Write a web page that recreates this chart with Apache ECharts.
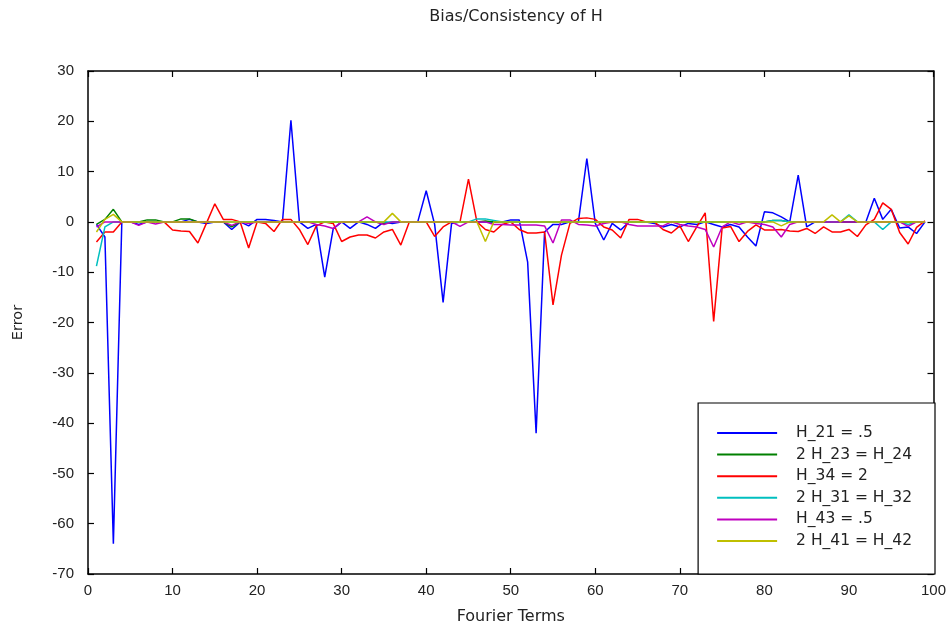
<!DOCTYPE html>
<html>
<head>
<meta charset="utf-8">
<script src="https://cdn.jsdelivr.net/npm/echarts@6/dist/echarts.min.js"></script>
<style>
html,body{margin:0;padding:0;background:#fff;}
#chart{width:949px;height:631px;}
</style>
</head>
<body>
<div id="chart"></div>
<script>
// Fourier term index (x values)
var terms = Array.from({length: 99}, function (_, i) { return i + 1; });

var seriesNames = ['H_21 = .5', '2 H_23 = H_24', 'H_34 = 2', '2 H_31 = H_32', 'H_43 = .5', '2 H_41 = H_42'];
var seriesColors = ['#0000ff', '#008000', '#ff0000', '#00bfbf', '#bf00bf', '#bfbf00'];

var xTicks = [0, 10, 20, 30, 40, 50, 60, 70, 80, 90, 100];
var yTicks = [-70, -60, -50, -40, -30, -20, -10, 0, 10, 20, 30];

var h21 = [
  -0.5, -3, -64, 0, 0, -0.5, 0, 0, 0, 0,
  0, 0.5, 0, -0.3, 0, 0, -1.5, 0, -0.8, 0.5,
  0.5, 0.3, 0, 20.2, 0, -1.3, -0.5, -11, -1.4, 0,
  -1.3, 0, -0.5, -1.3, 0, -0.3, 0, 0, 0, 6.2,
  -0.5, -16, -0.3, 0, 0, 0, 0, 0, 0, 0.4,
  0.4, -8, -42, -2, -0.5, -0.5, 0, 0, 12.6, -0.3,
  -3.6, -0.3, -1.6, 0, 0, 0, -0.3, -1, -0.5, -1,
  -0.3, -0.5, 0, -0.5, -1, -0.5, -1, -3, -4.8, 2,
  1.8, 1, 0, 9.3, -1, 0, 0, 0, 0, 0,
  0, 0, 4.7, 0.5, 2.5, -1.2, -1, -2.3, 0
];

var h23 = [
  -0.5, 0.5, 2.5, 0, 0, 0, 0.4, 0.4, 0, 0,
  0.6, 0.6, 0, 0, 0, 0, -1, 0, 0, 0,
  0, 0, 0, 0, 0, 0, 0, 0, 0, 0,
  0, 0, 0, 0, -0.3, 0, 0, 0, 0, 0,
  0, 0, 0, 0, 0, 0, 0.2, 0, 0, 0,
  0, 0, 0, 0, 0, 0, 0, 0, 0, 0,
  0, 0, 0, 0, 0, 0, 0, 0, 0, 0,
  0, 0, 0, 0, 0, 0, 0, 0, 0, 0,
  0.3, 0.3, 0, 0, 0, 0, 0, 0, 0, 0,
  0, 0, 0, 0, 0, 0, 0, 0, 0
];

var h34 = [
  -4, -2, -2, 0, 0, 0, 0, 0, 0, -1.6,
  -1.8, -1.9, -4.2, -0.3, 3.6, 0.5, 0.5, 0, -5.2, 0,
  -0.3, -1.9, 0.5, 0.5, -1.5, -4.5, -0.8, 0, -0.3, -3.9,
  -3, -2.6, -2.6, -3.2, -2, -1.5, -4.6, 0, 0, 0,
  -2.9, -1, 0, 0, 8.5, 0, -1.5, -2, -0.5, 0,
  -1.5, -2.2, -2.2, -2, -16.5, -6.6, -0.3, 0.7, 0.8, 0.5,
  -1, -1.6, -3.2, 0.5, 0.5, 0, 0, -1.5, -2.2, -0.8,
  -3.9, -1, 1.8, -19.8, -1.2, -0.9, -3.9, -1.9, -0.6, -1.6,
  -1.6, -1.5, -1.8, -1.9, -1.3, -2.3, -1, -2, -2, -1.5,
  -2.9, -0.6, 0.5, 3.8, 2.5, -2.1, -4.4, -1.1, 0.2
];

var h31 = [
  -8.8, -1, 0, 0, 0, 0, 0, 0, 0, 0,
  0, 0, 0, 0, 0, 0, 0, 0, 0, 0,
  0, 0, 0, 0, 0, 0, 0, 0, 0, 0,
  0, 0, 0, 0, 0, 0, 0, 0, 0, 0,
  0, 0, 0, 0, 0, 0.6, 0.6, 0.3, 0, 0,
  0, 0, 0, 0, 0, 0, 0, 0, 0, 0,
  0, 0, 0, 0, 0, 0, 0, 0, 0, 0,
  0, 0, 0, 0, 0, 0, 0, 0, 0, 0,
  0.3, 0.3, 0, 0, 0, 0, 0, 0, 0, 1.4,
  0, 0, 0, -1.5, 0, 0, -0.5, 0, 0
];

var h43 = [
  -1, 0, 0, 0, 0, -0.7, 0, -0.4, 0, 0,
  0, 0, 0, 0, 0, 0, -0.7, 0, -0.3, 0,
  0, 0, 0, 0, 0, 0, -0.5, -0.8, -1.3, 0,
  0, 0, 1, 0, -0.5, 0, 0, 0, 0, 0,
  0, 0, 0, -0.9, 0, 0, 0, -0.5, -0.5, -0.6,
  -0.6, -0.6, -0.6, -0.8, -4.2, 0.4, 0.4, -0.5, -0.6, -0.8,
  -0.3, 0, 0, -0.5, -0.8, -0.8, -0.8, -0.8, 0, -0.5,
  -0.8, -1, -1.5, -5, -1, 0, -0.5, 0, -0.3, -0.5,
  -1, -3, -0.5, 0, 0, 0, 0, 0, 0, 0,
  0, 0, 0, 0, 0, 0, -0.9, 0, 0
];

var h41 = [
  -2, 0.5, 1.5, 0, 0, 0, 0, 0, 0, 0,
  0, 0, 0, 0, 0, 0, 0, 0, 0, 0,
  0, 0, 0, 0, 0, 0, 0, 0, 0, 0,
  0, 0, 0, 0, 0, 1.7, 0, 0, 0, 0,
  0, 0, 0, 0, 0, 0, -3.9, 0, 0, 0,
  0, 0, 0, 0, 0, 0, 0, 0, 0, 0,
  0, 0, 0, 0, 0, 0, 0, 0, 0, 0,
  0, 0, 0, 0, 0, 0, 0, 0, 0, 0,
  0, -0.8, 0, 0, 0, 0, 0, 1.4, 0, 1.2,
  0, 0, 0, 0, 0, 0, 0, 0, 0
];

var allValues = [h21, h23, h34, h31, h43, h41];

var TICKFONT = 'Liberation Sans, Arial, Helvetica, sans-serif';
var FONT = 'DejaVu Sans, Liberation Sans, sans-serif';
var TXT = '#222';

function pairs(vals) {
  return terms.map(function (t, i) { return [t, vals[i]]; });
}

var series = allValues.map(function (vals, k) {
  return {
    name: seriesNames[k],
    type: 'line',
    data: pairs(vals),
    symbol: 'none',
    showSymbol: false,
    color: seriesColors[k],
    lineStyle: { width: 1.5, color: seriesColors[k] },
    xAxisIndex: 0,
    yAxisIndex: 0,
    z: 2 + k * 0.01
  };
});

var xBase = {
  type: 'value',
  min: xTicks[0],
  max: xTicks[xTicks.length - 1],
  interval: xTicks[1] - xTicks[0],
  splitLine: { show: false },
  axisLine: { show: true, onZero: false, lineStyle: { color: '#000', width: 1.5 } },
  axisTick: { show: true, inside: true, length: 6, lineStyle: { color: '#000', width: 1.2 } }
};
var yBase = {
  type: 'value',
  min: yTicks[0],
  max: yTicks[yTicks.length - 1],
  interval: yTicks[1] - yTicks[0],
  splitLine: { show: false },
  axisLine: { show: true, onZero: false, lineStyle: { color: '#000', width: 1.5 } },
  axisTick: { show: true, inside: true, length: 6, lineStyle: { color: '#000', width: 1.2 } }
};

var option = {
  animation: false,
  backgroundColor: '#fff',
  title: {
    text: 'Bias/Consistency of H',
    left: 511,
    top: 4,
    textAlign: 'center',
    textStyle: { fontFamily: FONT, fontSize: 16, fontWeight: 'normal', color: TXT }
  },
  grid: { left: 88, top: 71, right: 14, bottom: 57, containLabel: false },
  xAxis: [
    Object.assign({}, xBase, {
      position: 'bottom',
      name: 'Fourier Terms',
      nameLocation: 'middle',
      nameGap: 35,
      nameTextStyle: { fontFamily: FONT, fontSize: 16, color: TXT },
      axisLabel: { fontFamily: TICKFONT, fontSize: 15, color: TXT, margin: 9 }
    }),
    Object.assign({}, xBase, {
      position: 'top',
      axisLabel: { show: false }
    })
  ],
  yAxis: [
    Object.assign({}, yBase, {
      position: 'left',
      name: 'Error',
      nameLocation: 'middle',
      nameGap: 62,
      nameRotate: 90,
      nameTextStyle: { fontFamily: FONT, fontSize: 14.5, color: TXT },
      axisLabel: { fontFamily: TICKFONT, fontSize: 15, color: TXT, margin: 14 }
    }),
    Object.assign({}, yBase, {
      position: 'right',
      axisLabel: { show: false }
    })
  ],
  legend: {
    data: seriesNames,
    orient: 'vertical',
    right: 14,
    bottom: 57,
    padding: [22, 23, 25, 19],
    icon: 'rect',
    itemWidth: 60,
    itemHeight: 2,
    itemGap: 5.6,
    backgroundColor: '#fff',
    borderColor: '#000',
    borderWidth: 1.2,
    borderRadius: 0,
    selectedMode: false,
    textStyle: { fontFamily: FONT, fontSize: 15.5, color: TXT, lineHeight: 15, padding: [0, 0, 0, 14] }
  },
  series: series
};

var chart = echarts.init(document.getElementById('chart'), null, { renderer: 'canvas' });
chart.setOption(option);
</script>
</body>
</html>
